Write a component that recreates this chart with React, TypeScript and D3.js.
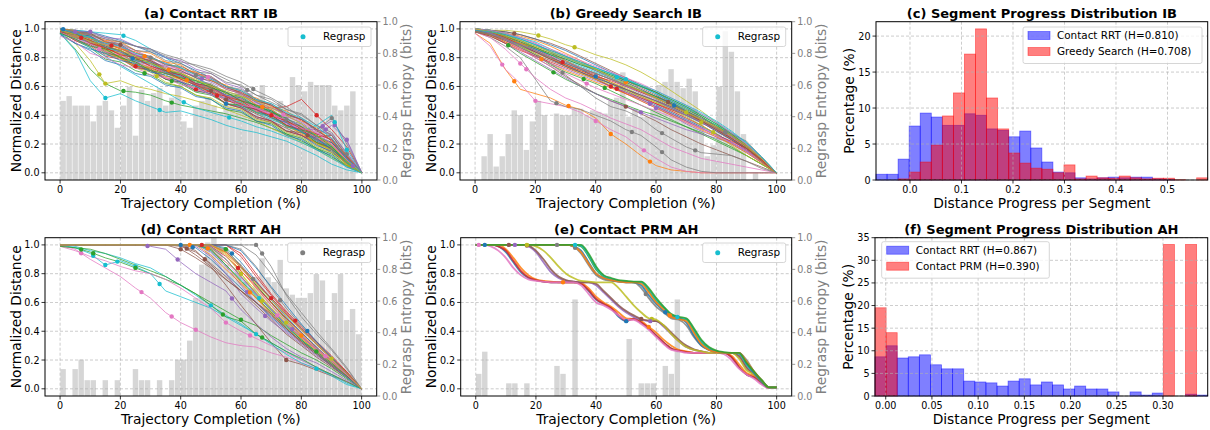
import * as d3 from "d3";
import React from "react";

const tab10 = d3.schemeCategory10;
const FONT = "'DejaVu Sans', sans-serif";

// trajectory completion (%) at which the distance was sampled
const completion = [0, 5, 10, 15, 20, 25, 30, 35, 40, 45, 50, 55, 60, 65, 70, 75, 80, 85, 90, 95, 100];
const completionFine = [
  0, 2.5, 5, 7.5, 10, 12.5, 15, 17.5, 20, 22.5, 25, 27.5, 30, 32.5, 35, 37.5, 40, 42.5, 45, 47.5, 50,
  52.5, 55, 57.5, 60, 62.5, 65, 67.5, 70, 72.5, 75, 77.5, 80, 82.5, 85, 87.5, 90, 92.5, 95, 97.5, 100,
];
const entropyCentres = [
  1, 3, 5, 7, 9, 11, 13, 15, 17, 19, 21, 23, 25, 27, 29, 31, 33, 35, 37, 39, 41, 43, 45, 47, 49,
  51, 53, 55, 57, 59, 61, 63, 65, 67, 69, 71, 73, 75, 77, 79, 81, 83, 85, 87, 89, 91, 93, 95, 97, 99,
];

// (a) Contact RRT IB
const rrtIbLines = [
  [1, .99, .98, .95, .92, .88, .84, .80, .76, .71, .66, .60, .55, .49, .43, .38, .32, .26, .19, .1, 0],
  [.98, .95, .90, .86, .83, .79, .74, .70, .66, .62, .57, .53, .48, .44, .38, .33, .27, .21, .15, .08, 0],
  [.97, .86, .72, .62, .57, .56, .54, .50, .47, .45, .43, .41, .38, .35, .31, .27, .22, .17, .11, .05, 0],
  [1, .97, .93, .90, .86, .82, .77, .72, .67, .62, .58, .54, .50, .47, .45, .46, .51, .40, .30, .18, 0],
  [1, .98, .96, .93, .89, .85, .80, .76, .71, .66, .61, .56, .50, .45, .40, .34, .30, .30, .36, .22, 0],
  [.99, .96, .92, .87, .82, .77, .73, .69, .65, .61, .57, .51, .46, .41, .36, .31, .26, .20, .14, .07, 0],
  [1, .98, .95, .92, .88, .84, .80, .76, .72, .69, .66, .60, .54, .48, .41, .35, .29, .23, .16, .08, 0],
  [1, .99, .97, .94, .91, .88, .85, .81, .77, .75, .72, .67, .63, .57, .52, .46, .38, .30, .38, .20, 0],
  [.98, .90, .78, .62, .64, .60, .58, .55, .53, .50, .47, .44, .40, .36, .31, .26, .21, .16, .10, .05, 0],
  [.97, .85, .64, .52, .55, .50, .46, .42, .43, .40, .37, .33, .30, .28, .25, .22, .17, .12, .06, .02, 0],
  [.99, .94, .90, .83, .81, .74, .71, .65, .63, .57, .55, .48, .46, .39, .36, .29, .26, .19, .15, .06, 0],
  [1, .96, .95, .89, .87, .80, .78, .72, .70, .64, .61, .55, .52, .45, .42, .35, .31, .24, .21, .11, 0],
  [.98, .92, .87, .79, .77, .71, .68, .62, .60, .54, .51, .44, .42, .36, .34, .27, .24, .17, .13, .05, 0],
  [1, .95, .92, .84, .80, .74, .73, .69, .67, .60, .56, .48, .45, .39, .36, .29, .26, .21, .18, .08, 0],
  [.99, .96, .95, .90, .88, .82, .79, .72, .69, .62, .59, .52, .50, .44, .42, .36, .33, .26, .33, .23, 0],
  [1, .97, .97, .91, .88, .81, .78, .71, .68, .61, .58, .51, .49, .42, .39, .32, .29, .21, .16, .07, 0],
  [.98, .92, .89, .84, .82, .76, .74, .69, .68, .62, .60, .54, .51, .44, .41, .33, .30, .22, .18, .08, 0],
  [1, .96, .93, .87, .85, .79, .77, .71, .69, .64, .62, .56, .54, .47, .44, .37, .34, .26, .21, .09, 0],
  [.99, .95, .92, .86, .84, .78, .75, .69, .67, .61, .59, .53, .50, .43, .40, .33, .29, .21, .16, .06, 0],
  [1, .99, .98, .97, .96, .92, .86, .80, .73, .66, .60, .53, .47, .42, .37, .33, .29, .33, .40, .16, 0],
  [.97, .90, .85, .78, .75, .69, .67, .61, .59, .53, .51, .45, .43, .36, .33, .26, .23, .16, .12, .04, 0],
  [1, .97, .96, .92, .91, .85, .83, .77, .75, .68, .65, .58, .55, .47, .44, .36, .32, .24, .18, .07, 0],
  [.99, .94, .91, .84, .81, .75, .72, .65, .62, .56, .54, .48, .47, .42, .40, .33, .29, .21, .17, .07, 0],
  [.98, .92, .88, .81, .79, .73, .72, .66, .64, .58, .56, .50, .48, .42, .39, .32, .29, .25, .26, .11, 0],
  [1, .98, .98, .94, .93, .88, .86, .80, .78, .72, .69, .62, .59, .51, .47, .39, .35, .27, .23, .11, 0],
  [.99, .93, .89, .82, .80, .73, .71, .65, .63, .57, .55, .48, .45, .38, .35, .29, .28, .23, .21, .09, 0],
  [1, .96, .94, .89, .88, .82, .80, .74, .72, .67, .65, .59, .56, .49, .46, .39, .36, .28, .23, .10, 0],
  [.99, .96, .95, .89, .87, .81, .80, .75, .73, .68, .66, .60, .58, .51, .48, .41, .37, .30, .26, .12, 0],
  [1, .95, .91, .83, .80, .73, .70, .63, .60, .54, .52, .46, .44, .37, .35, .28, .25, .18, .14, .05, 0],
  [.97, .93, .87, .81, .74, .68, .62, .56, .50, .45, .42, .39, .36, .32, .29, .25, .21, .16, .10, .04, 0],
  [1, .97, .95, .88, .85, .78, .76, .70, .68, .62, .60, .54, .52, .46, .43, .36, .32, .25, .21, .10, 0],
  [.99, .95, .92, .85, .81, .74, .73, .67, .66, .61, .59, .53, .51, .45, .42, .35, .32, .24, .20, .08, 0],
  [1, .96, .94, .87, .85, .79, .77, .71, .69, .63, .61, .55, .53, .46, .43, .36, .32, .23, .18, .07, 0],
  [.98, .94, .92, .86, .84, .78, .76, .70, .68, .62, .60, .53, .50, .43, .40, .33, .30, .22, .17, .06, 0],
  [.99, .94, .91, .85, .83, .77, .75, .69, .67, .61, .59, .53, .51, .45, .42, .35, .31, .23, .19, .08, 0],
  [1, .98, .97, .91, .89, .83, .81, .75, .74, .69, .67, .60, .57, .50, .47, .40, .37, .29, .24, .10, 0],
  [.98, .93, .90, .84, .82, .76, .73, .66, .64, .58, .57, .51, .49, .43, .41, .34, .31, .24, .20, .09, 0],
  [1, .97, .96, .91, .90, .85, .84, .78, .76, .70, .69, .63, .61, .54, .51, .44, .41, .33, .28, .13, 0],
  [.99, .94, .92, .85, .83, .76, .73, .67, .65, .59, .57, .51, .49, .42, .39, .32, .28, .20, .16, .06, 0],
  [1, .96, .94, .87, .84, .78, .76, .70, .67, .60, .57, .51, .49, .42, .39, .32, .29, .22, .18, .07, 0],
  [.96, .90, .86, .83, .78, .76, .70, .68, .63, .60, .54, .52, .47, .44, .38, .35, .28, .24, .16, .09, 0],
  [1, .99, .93, .91, .86, .84, .79, .77, .72, .70, .64, .61, .55, .52, .46, .43, .36, .31, .22, .12, 0],
  [.97, .93, .88, .86, .80, .77, .71, .69, .66, .64, .59, .56, .50, .47, .42, .38, .30, .26, .18, .08, 0],
  [.99, .97, .90, .87, .82, .80, .74, .71, .65, .61, .56, .53, .47, .44, .40, .36, .31, .27, .23, .11, 0],
  [1, .95, .91, .89, .84, .82, .77, .74, .70, .67, .63, .58, .55, .49, .45, .41, .37, .30, .27, .14, 0],
  [.98, .96, .92, .88, .85, .80, .78, .73, .71, .66, .64, .59, .56, .50, .47, .41, .37, .30, .22, .10, 0],
  [.95, .91, .83, .80, .75, .73, .68, .66, .61, .59, .54, .52, .47, .45, .40, .37, .31, .28, .20, .09, 0],
  [1, .98, .96, .93, .91, .88, .86, .82, .79, .74, .70, .65, .60, .54, .49, .44, .40, .33, .26, .12, 0],
  [.99, .96, .91, .89, .85, .81, .76, .72, .69, .65, .60, .57, .53, .50, .45, .40, .34, .26, .19, .08, 0],
  [1, .97, .94, .90, .88, .83, .80, .76, .73, .68, .65, .60, .57, .51, .48, .42, .38, .32, .24, .10, 0],
];
// [trajectory index, completion %] of every regrasp
const rrtIbRegrasps = [
  [9, 15], [9, 33], [29, 41], [29, 56], [2, 21], [2, 37], [8, 13], [8, 15], [3, 17], [3, 85], [13, 7],
  [13, 25], [4, 91], [4, 87], [7, 90], [7, 64], [14, 95], [14, 88], [19, 21], [19, 91], [19, 95], [27, 45],
  [27, 30], [23, 45], [23, 52], [5, 50], [5, 55], [6, 49], [1, 42], [10, 55], [11, 36], [12, 28], [25, 82],
  [17, 75], [21, 67], [26, 74], [37, 95], [34, 97], [22, 37], [28, 32], [35, 20], [24, 10], [16, 13], [30, 24],
  [4, 5], [0, 1], [44, 47], [47, 62], [41, 28], [43, 70],
];
const rrtIbEntropy = [
  .50, .53, .47, .47, .47, .37, .47, .50, .44, .33, .47, .59, .28, .57, .50, .55, .58, .47, .52, .60,
  .37, .33, .47, .50, .52, .47, .43, .52, .49, .57, .53, .55, .52, .60, .43, .45, .50, .47, .65, .60,
  .56, .62, .60, .60, .60, .47, .44, .47, .56, 0,
];

// (b) Greedy Search IB
const greedyIbLines = [
  [1, .99, .98, .96, .93, .89, .85, .80, .75, .70, .65, .60, .55, .49, .43, .37, .31, .24, .17, .09, 0],
  [.97, .90, .72, .58, .55, .52, .47, .44, .38, .27, .20, .12, .05, .02, .01, 0, 0, 0, 0, 0, 0],
  [.98, .97, .93, .88, .82, .75, .70, .66, .62, .57, .52, .47, .42, .37, .32, .27, .22, .17, .12, .06, 0],
  [.99, .98, .95, .90, .85, .80, .76, .72, .68, .63, .58, .53, .48, .43, .38, .33, .27, .21, .15, .08, 0],
  [1, .99, .97, .94, .90, .84, .78, .72, .66, .60, .55, .50, .45, .40, .34, .29, .25, .20, .14, .07, 0],
  [.98, .96, .91, .86, .80, .74, .67, .61, .55, .50, .46, .41, .36, .30, .25, .20, .16, .12, .08, .04, 0],
  [.97, .88, .72, .62, .50, .48, .46, .42, .36, .30, .25, .17, .10, .04, .01, 0, 0, 0, 0, 0, 0],
  [.98, .94, .88, .80, .65, .50, .46, .44, .40, .36, .30, .26, .18, .09, .04, .01, 0, 0, 0, 0, 0],
  [1, .99, .99, .98, .96, .93, .89, .86, .82, .79, .75, .70, .64, .57, .50, .43, .35, .27, .18, .09, 0],
  [1, .99, .97, .94, .91, .86, .81, .76, .72, .68, .64, .60, .56, .51, .46, .41, .35, .28, .20, .10, 0],
  [.99, .96, .92, .88, .84, .80, .76, .72, .67, .62, .57, .52, .47, .42, .37, .32, .27, .21, .15, .08, 0],
  [1, .99, .97, .95, .92, .88, .83, .78, .72, .67, .63, .58, .53, .48, .42, .36, .30, .23, .16, .08, 0],
  [.98, .95, .90, .83, .77, .71, .65, .60, .55, .51, .47, .43, .40, .36, .32, .28, .23, .18, .12, .06, 0],
  [1, .98, .95, .91, .86, .81, .75, .70, .65, .60, .55, .51, .46, .41, .36, .31, .26, .22, .17, .09, 0],
  [.99, .96, .90, .84, .78, .72, .66, .60, .55, .50, .46, .42, .38, .34, .30, .27, .24, .21, .15, .07, 0],
  [1, .99, .98, .96, .93, .90, .86, .81, .76, .71, .66, .61, .56, .50, .45, .39, .32, .26, .19, .10, 0],
  [.98, .94, .86, .76, .66, .58, .52, .48, .43, .38, .34, .30, .24, .18, .14, .10, .08, .06, .04, .02, 0],
  [.99, .97, .94, .89, .83, .76, .68, .60, .52, .46, .43, .38, .30, .24, .18, .14, .13, .12, .08, .03, 0],
  [.99, .97, .93, .88, .83, .79, .75, .71, .67, .63, .59, .54, .49, .44, .39, .33, .27, .19, .12, .06, 0],
  [1, .98, .94, .90, .86, .82, .78, .74, .70, .66, .62, .57, .53, .48, .43, .38, .33, .27, .20, .10, 0],
  [.98, .97, .94, .90, .86, .82, .79, .75, .71, .67, .63, .58, .53, .48, .42, .37, .31, .25, .18, .09, 0],
  [.99, .96, .91, .86, .81, .76, .71, .67, .63, .59, .55, .50, .45, .40, .35, .30, .25, .20, .14, .07, 0],
  [1, .99, .96, .92, .87, .82, .77, .73, .69, .65, .61, .57, .53, .49, .44, .39, .33, .26, .18, .09, 0],
  [.98, .95, .90, .85, .81, .77, .73, .69, .65, .60, .56, .52, .48, .44, .40, .35, .29, .23, .16, .08, 0],
  [1, .98, .93, .87, .81, .76, .72, .68, .64, .60, .56, .51, .46, .41, .36, .31, .26, .21, .16, .08, 0],
  [.99, .98, .96, .93, .89, .85, .81, .77, .73, .69, .64, .59, .54, .48, .43, .38, .32, .26, .19, .10, 0],
  [1, .97, .92, .86, .80, .74, .69, .64, .59, .55, .51, .47, .43, .39, .35, .31, .26, .21, .15, .08, 0],
  [.98, .97, .95, .92, .88, .84, .80, .76, .71, .66, .61, .56, .51, .46, .41, .36, .31, .26, .20, .11, 0],
  [.99, .97, .94, .90, .85, .80, .74, .69, .65, .61, .57, .53, .49, .45, .40, .35, .30, .24, .17, .08, 0],
  [1, .99, .97, .93, .89, .84, .80, .76, .73, .69, .65, .60, .55, .50, .45, .40, .34, .28, .21, .11, 0],
  [.99, .97, .93, .89, .84, .79, .74, .70, .66, .62, .58, .54, .50, .45, .40, .35, .29, .23, .17, .09, 0],
  [.98, .96, .93, .90, .87, .83, .78, .73, .69, .65, .61, .57, .52, .47, .42, .37, .31, .25, .18, .09, 0],
  [1, .98, .95, .91, .87, .83, .79, .75, .72, .68, .64, .60, .56, .51, .46, .40, .34, .27, .19, .10, 0],
  [.99, .98, .94, .89, .84, .79, .75, .71, .67, .64, .60, .56, .52, .47, .42, .36, .30, .24, .17, .09, 0],
  [1, .97, .93, .89, .85, .81, .77, .73, .69, .65, .60, .55, .50, .45, .40, .35, .30, .25, .19, .10, 0],
  [.98, .96, .92, .87, .82, .78, .74, .70, .66, .62, .58, .54, .50, .46, .41, .36, .30, .24, .17, .08, 0],
  [1, .99, .97, .94, .90, .86, .82, .78, .74, .70, .66, .62, .57, .52, .47, .41, .35, .28, .20, .10, 0],
  [.98, .96, .93, .89, .85, .80, .76, .72, .69, .65, .61, .57, .52, .47, .42, .37, .31, .27, .22, .11, 0],
  [1, .98, .95, .92, .88, .84, .80, .76, .72, .67, .62, .57, .52, .47, .42, .37, .32, .26, .19, .10, 0],
  [.99, .98, .96, .93, .89, .85, .81, .77, .73, .69, .65, .61, .57, .52, .47, .42, .36, .29, .21, .11, 0],
];
const greedyIbRegrasps = [
  [1, 13], [1, 31], [1, 45], [1, 58], [6, 9], [6, 20], [6, 40], [6, 56], [7, 27], [7, 52], [7, 62], [17, 29],
  [17, 62], [17, 73], [8, 21], [8, 33], [16, 15], [16, 17], [12, 11], [12, 26], [2, 36], [2, 43], [3, 29],
  [14, 55], [5, 50], [13, 45], [25, 64], [27, 83], [28, 75], [37, 83], [38, 70], [9, 47], [10, 40], [11, 50],
  [4, 60], [20, 66], [23, 47], [26, 37], [21, 22], [24, 58], [15, 13], [18, 79], [39, 50],
];
const greedyIbEntropy = [
  0, .15, .29, .085, .15, .29, .44, .41, .19, .37, .50, .41, .19, .42, .41, .41, .45, .45, .41, .44,
  .43, .42, .50, .52, .68, .40, .45, .40, .40, .45, .60, .62, .70, .62, .58, .64, .56, .37, .15, .22,
  .59, .94, .81, .56, .29, 0, .05, 0, 0, 0,
];

// (d) Contact RRT AH
const rrtAhLines = [
  [1, 1, 1, 1, 1, 1, 1, 1, 1, 1, .98, .90, .78, .66, .55, .44, .34, .25, .16, .08, 0],
  [1, 1, 1, 1, 1, 1, 1, 1, 1, 1, 1, .95, .84, .72, .60, .49, .38, .28, .19, .1, 0],
  [.99, .98, .95, .91, .88, .84, .80, .76, .72, .66, .60, .54, .48, .44, .37, .31, .25, .2, .14, .07, 0],
  [1, 1, 1, 1, 1, 1, 1, 1, 1, 1, 1, 1, .92, .78, .65, .53, .42, .32, .22, .12, 0],
  [1, 1, 1, 1, 1, 1, .99, .97, .88, .80, .74, .68, .55, .45, .36, .28, .22, .18, .12, .06, 0],
  [1, 1, 1, 1, 1, 1, 1, 1, 1, .93, .85, .72, .58, .45, .32, .20, .17, .13, .09, .05, 0],
  [1, .97, .90, .84, .78, .70, .63, .53, .46, .41, .36, .32, .30, .29, .25, .22, .18, .14, .10, .05, 0],
  [1, 1, 1, 1, 1, 1, 1, 1, 1, 1, 1, 1, 1, .93, .80, .66, .53, .40, .28, .15, 0],
  [1, 1, 1, 1, 1, 1, 1, 1, 1, 1, .96, .88, .80, .68, .56, .45, .35, .26, .17, .09, 0],
  [1, .98, .94, .86, .89, .85, .80, .68, .64, .60, .56, .50, .44, .38, .32, .26, .20, .15, .09, .03, 0],
  [1, 1, 1, 1, 1, 1, 1, 1, 1, .98, .90, .80, .70, .60, .50, .41, .33, .25, .17, .09, 0],
  [1, 1, 1, 1, 1, 1, 1, 1, 1, 1, .97, .86, .74, .63, .52, .42, .33, .25, .17, .09, 0],
  [1, 1, 1, 1, 1, 1, 1, 1, 1, 1, 1, .97, .85, .72, .60, .48, .37, .27, .18, .09, 0],
  [1, 1, 1, 1, 1, 1, 1, 1, 1, 1, .99, .92, .82, .71, .60, .49, .39, .29, .19, .1, 0],
  [1, 1, 1, 1, 1, 1, 1, 1, 1, 1, .95, .85, .72, .60, .49, .40, .32, .24, .16, .08, 0],
  [1, 1, 1, 1, 1, 1, 1, 1, .99, .95, .87, .78, .68, .58, .48, .38, .30, .22, .15, .08, 0],
  [.99, .96, .92, .89, .85, .82, .80, .76, .70, .63, .56, .46, .40, .35, .30, .25, .20, .15, .1, .05, 0],
  [1, 1, 1, 1, 1, 1, 1, 1, 1, 1, 1, 1, .97, .85, .70, .56, .44, .32, .22, .11, 0],
  [1, 1, 1, 1, 1, 1, 1, 1, 1, 1, 1, .93, .80, .66, .54, .44, .36, .27, .18, .09, 0],
  [1, .99, .96, .94, .91, .87, .84, .78, .72, .65, .58, .51, .45, .38, .31, .24, .18, .14, .1, .04, 0],
  [1, 1, 1, 1, 1, 1, 1, 1, 1, 1, 1, .98, .88, .75, .62, .50, .39, .29, .19, .1, 0],
  [1, 1, 1, 1, 1, 1, 1, 1, 1, 1, .93, .83, .73, .63, .53, .44, .35, .27, .19, .1, 0],
  [.99, .98, .97, .94, .90, .86, .82, .78, .72, .66, .58, .50, .47, .38, .32, .26, .21, .15, .1, .05, 0],
  [1, 1, 1, 1, 1, 1, 1, 1, 1, 1, 1, 1, .94, .80, .66, .54, .43, .33, .23, .12, 0],
  [1, 1, 1, 1, 1, 1, 1, 1, 1, .99, .92, .80, .66, .56, .47, .39, .31, .23, .16, .08, 0],
  [1, 1, 1, 1, 1, 1, 1, 1, 1, .96, .86, .76, .68, .60, .52, .42, .32, .24, .16, .08, 0],
  [1, 1, 1, 1, 1, 1, 1, 1, 1, 1, .97, .88, .77, .66, .55, .45, .36, .27, .18, .09, 0],
  [1, 1, 1, 1, 1, 1, 1, 1, 1, 1, 1, .96, .86, .74, .63, .52, .42, .31, .21, .11, 0],
  [1, 1, 1, 1, 1, 1, 1, 1, 1, 1, .98, .90, .78, .67, .56, .46, .37, .28, .19, .1, 0],
  [1, 1, 1, 1, 1, 1, 1, 1, 1, 1, .96, .86, .76, .65, .55, .44, .34, .25, .17, .08, 0],
  [1, 1, 1, 1, 1, 1, 1, 1, 1, 1, 1, 1, .96, .84, .71, .58, .45, .33, .22, .11, 0],
  [1, 1, 1, 1, 1, 1, 1, 1, 1, 1, 1, .94, .82, .70, .58, .47, .37, .28, .2, .1, 0],
  [1, 1, 1, 1, 1, 1, 1, 1, 1, 1, .97, .86, .75, .64, .53, .43, .34, .26, .18, .09, 0],
  [1, 1, 1, 1, 1, 1, 1, 1, 1, 1, 1, .95, .85, .74, .63, .52, .41, .31, .21, .11, 0],
  [1, 1, 1, 1, 1, 1, 1, 1, 1, 1, .99, .90, .78, .66, .55, .45, .36, .28, .2, .1, 0],
  [1, 1, 1, 1, 1, 1, 1, 1, .97, .91, .84, .76, .68, .60, .51, .42, .33, .25, .17, .09, 0],
  [1, 1, 1, 1, 1, 1, 1, 1, 1, 1, 1, .96, .84, .71, .58, .47, .37, .28, .19, .1, 0],
  [1, 1, 1, 1, 1, 1, 1, 1, 1, 1, 1, 1, 1, 1, .85, .65, .50, .38, .27, .14, 0],
  [1, 1, 1, 1, 1, 1, 1, 1, 1, 1, 1, .95, .84, .73, .62, .51, .41, .31, .21, .11, 0],
];
const rrtAhRegrasps = [
  [6, 7], [6, 27], [6, 37], [6, 45], [16, 55], [16, 63], [9, 11], [9, 15], [9, 19], [9, 25], [9, 33], [19, 50],
  [19, 65], [19, 85], [2, 7], [2, 11], [2, 25], [2, 60], [22, 54], [22, 67], [4, 29], [4, 39], [4, 57], [37, 65],
  [37, 67], [5, 75], [0, 40], [1, 43], [3, 47], [10, 44], [11, 49], [12, 55], [13, 59], [20, 57], [15, 42],
  [25, 48], [35, 40], [14, 62], [21, 63], [24, 68], [26, 72], [28, 75], [29, 66], [31, 80], [32, 85], [33, 70],
  [34, 77], [36, 88], [38, 90], [18, 67], [17, 73], [27, 64], [23, 78], [30, 82], [8, 60],
];
const rrtAhEntropy = [
  .17, 0, .17, .23, .10, .10, 0, .10, 0, .10, 0, 0, .17, .10, .10, 0, .10, 0, .10, .23,
  .23, .35, .62, .83, .97, 1.0, .93, .83, .78, .80, .72, .68, .75, .87, .75, .72, .86, .68, .64, .62,
  .62, .65, .77, .73, .48, .65, .77, .48, .55, .39,
];

// (e) Contact PRM AH
const prmAhLines = [
  [1, 1, 1, .99, .95, .88, .81, .77, .755, .745, .74, .74, .74, .74, .73, .68, .62, .59, .56, .50,
    .47, .49, .46, .42, .37, .32, .28, .265, .255, .25, .25, .25, .25, .25, .22, .15, .10, .08, .04, .005, .01],
  [1, 1, 1, 1, .97, .91, .84, .79, .76, .75, .745, .74, .74, .74, .735, .70, .64, .60, .57, .53,
    .49, .485, .47, .43, .39, .34, .30, .27, .26, .25, .25, .25, .25, .25, .23, .17, .11, .09, .05, .01, .01],
  [1, 1, 1, 1, 1, 1, 1, 1, 1, 1, 1, 1, 1, 1, .99, .92, .83, .78, .76, .75,
    .745, .74, .74, .68, .61, .56, .51, .49, .48, .40, .32, .28, .26, .25, .25, .245, .17, .11, .06, .01, .01],
  [1, 1, 1, .99, .96, .89, .82, .775, .755, .745, .74, .74, .74, .74, .73, .685, .625, .59, .56, .51,
    .475, .485, .46, .42, .37, .32, .28, .265, .255, .25, .25, .25, .25, .25, .22, .15, .10, .08, .04, .005, .01],
  [1, 1, 1, 1, 1, 1, 1, .99, .95, .88, .81, .77, .75, .745, .74, .74, .72, .67, .62, .57,
    .53, .50, .48, .47, .47, .43, .38, .33, .29, .27, .26, .25, .25, .25, .25, .22, .14, .10, .05, .01, .01],
  [1, 1, 1, 1, 1, 1, 1, .995, .96, .90, .83, .78, .755, .745, .74, .74, .73, .68, .63, .58,
    .54, .51, .485, .475, .47, .44, .39, .34, .30, .275, .26, .25, .25, .25, .25, .23, .15, .10, .05, .01, .01],
  [1, 1, .99, .96, .91, .84, .79, .76, .75, .745, .74, .74, .74, .74, .72, .66, .60, .58, .55, .51,
    .48, .48, .45, .41, .36, .31, .27, .26, .25, .25, .25, .25, .25, .24, .20, .14, .10, .07, .03, .005, .01],
  [1, 1, 1, 1, 1, 1, 1, 1, 1, 1, 1, 1, 1, .99, .94, .86, .79, .76, .75, .745,
    .74, .74, .70, .63, .57, .53, .49, .48, .44, .36, .30, .27, .255, .25, .25, .25, .20, .12, .06, .01, .01],
  [1, 1, 1, 1, 1, 1, 1, 1, .99, .96, .91, .85, .80, .77, .75, .745, .74, .74, .74, .70,
    .64, .58, .53, .49, .48, .44, .38, .33, .29, .27, .26, .25, .25, .25, .25, .21, .13, .10, .05, .01, .01],
  [1, 1, 1, 1, 1, 1, 1, 1, 1, 1, 1, 1, 1, 1, .995, .93, .84, .785, .765, .75,
    .745, .74, .74, .69, .62, .565, .515, .495, .485, .41, .33, .285, .26, .25, .25, .245, .17, .11, .06, .01, .01],
  [1, 1, 1, 1, 1, 1, 1, 1, 1, 1, 1, 1, 1, .99, .96, .88, .80, .77, .755, .745,
    .74, .74, .72, .65, .59, .54, .50, .49, .46, .37, .30, .27, .255, .25, .25, .25, .18, .11, .05, .01, .01],
  [1, 1, 1, 1, 1, 1, 1, 1, 1, 1, 1, 1, 1, .99, .95, .87, .80, .77, .755, .745,
    .74, .74, .73, .67, .60, .55, .50, .485, .47, .39, .31, .27, .255, .25, .25, .25, .19, .12, .06, .01, .01],
  [1, 1, 1, 1, 1, 1, 1, 1, 1, 1, 1, 1, 1, 1, 1, .94, .85, .79, .77, .755,
    .75, .745, .745, .70, .63, .57, .52, .50, .49, .42, .34, .29, .265, .255, .25, .25, .18, .12, .06, .01, .01],
];
const prmAhRegrasps = [
  [6, 1], [0, 3], [5, 11], [4, 13], [5, 17], [8, 17], [7, 27], [1, 29], [7, 33], [9, 33], [0, 50], [5, 55],
  [7, 56.5], [1, 57.5], [8, 58.5], [10, 63], [11, 64.5], [9, 67], [4, 58],
];
const prmAhEntropy = [
  .14, .28, 0, 0, 0, .08, .08, 0, .08, 0, 0, 0, 0, .19, .14, 0, .61, 0, 0, 0,
  0, 0, 0, 0, 0, .36, 0, .08, .08, .08, 0, .19, .14, .61, 0, 0, 0, 0, 0, 0,
  0, 0, 0, 0, 0, 0, 0, 0, 0, 0,
];

// (c), (f) histograms of distance progress per segment (percentage of segments per bin)
const ibBinStart = -0.066;
const ibBinWidth = 0.02147;
const rrtIbHist = [
  .8, .8, 2.9, 7.5, 9.3, 8.75, 7.6, 7.6, 9.2, 9.0, 7.1, 6.9, 6.0, 6.8, 4.45, 2.5, 1.1, 1.0, .3, .15,
  .3, .4, .3, .4, .4, .15, .1, 0, 0, 0,
];
const greedyIbHist = [
  0, 0, .15, 1.1, 2.5, 4.85, 8.9, 12.1, 17.5, 21.0, 11.4, 7.1, 3.75, 2.35, 1.65, 1.5, 1.0, 2.1, .15, .55,
  .3, .25, .55, .3, .15, .25, .25, .05, 0, .3,
];
const ahBinStart = -0.0116;
const ahBinWidth = 0.012;
const rrtAhHist = [
  8.66, 11.1, 8.4, 8.66, 9.1, 6.9, 6.0, 6.0, 3.3, 3.1, 2.9, 2.2, 3.3, 3.8, 2.45, 3.1, 2.45, 1.55, 2.2, 1.55,
  1.55, .9, 0, .9, .2, .65, 0, 0, .4, .2,
];
const prmAhHist = [
  19.5, 14.0, 0, 0, 0, 0, 0, 0, 0, 0, 0, 0, 0, 0, 0, 0, 0, 0, 0, 0,
  0, 0, 0, 0, 0, 0, 33.5, 0, 33.5, 0,
];

const GRID = { stroke: "#b0b0b0", strokeWidth: 0.8, strokeDasharray: "3,2", opacity: 0.8 };

function Legend({ x, y, w, h }) {
  return <rect x={x} y={y} width={w} height={h} rx={2} fill="white" fillOpacity={0.8} stroke="#cccccc" strokeWidth={0.8} />;
}

function TrajectoryPanel({ box, title, xs, lines, regrasps, entropy, legendColor, lineWidth = 1, lineOpacity = 0.75, curve = d3.curveLinear }) {
  const { left, top, right, bottom } = box;
  const x = d3.scaleLinear().domain([-5, 105]).range([left, right]);
  const y = d3.scaleLinear().domain([-0.05, 1.05]).range([bottom, top]);
  const yEnt = d3.scaleLinear().domain([0, 1]).range([bottom, top]);
  const xTicks = [0, 20, 40, 60, 80, 100];
  const yTicks = [0, 0.2, 0.4, 0.6, 0.8, 1.0];
  const line = d3.line<number>().x((_, i) => x(xs[i])).y((d) => y(d)).curve(curve);
  const barW = x(1.8) - x(0);
  const midY = (top + bottom) / 2;
  const midX = (left + right) / 2;
  return (
    <g>
      {entropy.map((v, i) =>
        v > 0 ? (
          <rect key={i} x={x(entropyCentres[i]) - barW / 2} y={yEnt(v)} width={barW} height={yEnt(0) - yEnt(v)} fill="#d6d6d6" />
        ) : null
      )}
      {xTicks.map((t) => <line key={"gx" + t} x1={x(t)} x2={x(t)} y1={top} y2={bottom} {...GRID} />)}
      {yTicks.map((t) => <line key={"gy" + t} x1={left} x2={right} y1={y(t)} y2={y(t)} {...GRID} />)}
      {lines.map((l, i) => (
        <path key={i} d={line(l)} fill="none" stroke={tab10[i % 10]} strokeWidth={lineWidth} strokeOpacity={lineOpacity} />
      ))}
      {regrasps.map(([li, px], i) => {
        const along = d3.scaleLinear().domain(xs).range(lines[li]);
        return <circle key={i} cx={x(px)} cy={y(along(px))} r={2.2} fill={tab10[li % 10]} />;
      })}
      <rect x={left} y={top} width={right - left} height={bottom - top} fill="none" stroke="black" strokeWidth={1} />
      {xTicks.map((t) => (
        <g key={"tx" + t}>
          <line x1={x(t)} x2={x(t)} y1={bottom} y2={bottom + 3.5} stroke="black" strokeWidth={0.8} />
          <text x={x(t)} y={bottom + 12.5} textAnchor="middle" fontSize={9.6}>{t}</text>
        </g>
      ))}
      {yTicks.map((t) => (
        <g key={"ty" + t}>
          <line x1={left - 3.5} x2={left} y1={y(t)} y2={y(t)} stroke="black" strokeWidth={0.8} />
          <text x={left - 5.5} y={y(t) + 3.5} textAnchor="end" fontSize={9.6}>{t.toFixed(1)}</text>
        </g>
      ))}
      {yTicks.map((t) => (
        <g key={"tr" + t}>
          <line x1={right} x2={right + 3.5} y1={yEnt(t)} y2={yEnt(t)} stroke="gray" strokeWidth={0.8} />
          <text x={right + 5.5} y={yEnt(t) + 3.5} textAnchor="start" fontSize={9.6} fill="gray">{t.toFixed(1)}</text>
        </g>
      ))}
      <Legend x={right - 89} y={top + 5.3} w={83} h={19.5} />
      <circle cx={right - 74} cy={top + 15} r={2.5} fill={legendColor} />
      <text x={right - 54} y={top + 18.7} fontSize={10.4}>Regrasp</text>
      <text x={midX} y={top - 3.4} textAnchor="middle" fontSize={13} fontWeight="bold">{title}</text>
      <text x={midX} y={bottom + 28.3} textAnchor="middle" fontSize={13.8}>Trajectory Completion (%)</text>
      <text transform={`translate(${left - 24.3},${midY}) rotate(-90)`} textAnchor="middle" fontSize={13.8}>Normalized Distance</text>
      <text transform={`translate(${right + 34},${midY}) rotate(-90)`} textAnchor="middle" fontSize={13.8} fill="gray">Regrasp Entropy (bits)</text>
    </g>
  );
}

function HistPanel({ box, title, binStart, binWidth, series, xTicks, xDigits, yTicks, yMax, legend }) {
  const { left, top, right, bottom } = box;
  const nBins = series[0].values.length;
  const x = d3.scaleLinear().domain([binStart, binStart + nBins * binWidth]).range([left, right]);
  const y = d3.scaleLinear().domain([0, yMax]).range([bottom, top]);
  const midY = (top + bottom) / 2;
  const midX = (left + right) / 2;
  return (
    <g>
      {series.map((s) =>
        s.values.map((v, i) =>
          v > 0 ? (
            <rect key={s.label + i} x={x(binStart + i * binWidth)} y={y(v)} width={x(binStart + (i + 1) * binWidth) - x(binStart + i * binWidth)}
              height={y(0) - y(v)} fill={s.color} fillOpacity={0.5} stroke={s.color} strokeOpacity={0.5} strokeWidth={0.8} />
          ) : null
        )
      )}
      {xTicks.map((t) => <line key={"gx" + t} x1={x(t)} x2={x(t)} y1={top} y2={bottom} {...GRID} />)}
      {yTicks.map((t) => <line key={"gy" + t} x1={left} x2={right} y1={y(t)} y2={y(t)} {...GRID} />)}
      <rect x={left} y={top} width={right - left} height={bottom - top} fill="none" stroke="black" strokeWidth={1} />
      {xTicks.map((t) => (
        <g key={"tx" + t}>
          <line x1={x(t)} x2={x(t)} y1={bottom} y2={bottom + 3.5} stroke="black" strokeWidth={0.8} />
          <text x={x(t)} y={bottom + 12.5} textAnchor="middle" fontSize={9.6}>{t.toFixed(xDigits)}</text>
        </g>
      ))}
      {yTicks.map((t) => (
        <g key={"ty" + t}>
          <line x1={left - 3.5} x2={left} y1={y(t)} y2={y(t)} stroke="black" strokeWidth={0.8} />
          <text x={left - 5.5} y={y(t) + 3.5} textAnchor="end" fontSize={9.6}>{t}</text>
        </g>
      ))}
      <Legend x={legend.x} y={legend.y} w={legend.w} h={36.5} />
      {series.map((s, i) => (
        <g key={"lg" + s.label}>
          <rect x={legend.x + 5} y={legend.y + 4.5 + i * 16} width={22} height={8} fill={s.color} fillOpacity={0.5} stroke={s.color} strokeOpacity={0.5} strokeWidth={0.8} />
          <text x={legend.x + 34} y={legend.y + 12.3 + i * 16} fontSize={10.4}>{s.label}</text>
        </g>
      ))}
      <text x={midX} y={top - 3.4} textAnchor="middle" fontSize={13} fontWeight="bold">{title}</text>
      <text x={midX} y={bottom + 28.3} textAnchor="middle" fontSize={13.8}>Distance Progress per Segment</text>
      <text transform={`translate(${left - 22.5},${midY}) rotate(-90)`} textAnchor="middle" fontSize={13.8}>Percentage (%)</text>
    </g>
  );
}

export default function App() {
  const row1 = { top: 21.7, bottom: 180 };
  const row2 = { top: 237.7, bottom: 396 };
  return (
    <svg width={1210} height={430} style={{ position: "absolute", left: 0, top: 0, background: "white" }} fontFamily={FONT}>
      <TrajectoryPanel box={{ left: 45, right: 377, ...row1 }} title="(a) Contact RRT IB" xs={completion}
        lines={rrtIbLines} regrasps={rrtIbRegrasps} entropy={rrtIbEntropy} legendColor={tab10[9]} />
      <TrajectoryPanel box={{ left: 460, right: 791.7, ...row1 }} title="(b) Greedy Search IB" xs={completion}
        lines={greedyIbLines} regrasps={greedyIbRegrasps} entropy={greedyIbEntropy} legendColor={tab10[9]} />
      <HistPanel box={{ left: 876, right: 1207.7, ...row1 }} title="(c) Segment Progress Distribution IB"
        binStart={ibBinStart} binWidth={ibBinWidth} xTicks={[0, 0.1, 0.2, 0.3, 0.4, 0.5]} xDigits={1}
        yTicks={[0, 5, 10, 15, 20]} yMax={22} legend={{ x: 1023, y: 27, w: 179 }}
        series={[
          { label: "Contact RRT (H=0.810)", color: "#0000ff", values: rrtIbHist },
          { label: "Greedy Search (H=0.708)", color: "#ff0000", values: greedyIbHist },
        ]} />
      <TrajectoryPanel box={{ left: 45, right: 376.7, ...row2 }} title="(d) Contact RRT AH" xs={completion}
        lines={rrtAhLines} regrasps={rrtAhRegrasps} entropy={rrtAhEntropy} legendColor={tab10[7]} />
      <TrajectoryPanel box={{ left: 460.7, right: 791.7, ...row2 }} title="(e) Contact PRM AH" xs={completionFine}
        lines={prmAhLines} regrasps={prmAhRegrasps} entropy={prmAhEntropy} legendColor={tab10[9]}
        lineWidth={1.8} lineOpacity={0.85} curve={d3.curveMonotoneX} />
      <HistPanel box={{ left: 875, right: 1207.7, ...row2 }} title="(f) Segment Progress Distribution AH"
        binStart={ahBinStart} binWidth={ahBinWidth} xTicks={[0, 0.05, 0.1, 0.15, 0.2, 0.25, 0.3]} xDigits={2}
        yTicks={[0, 5, 10, 15, 20, 25, 30, 35]} yMax={35} legend={{ x: 881.7, y: 241.7, w: 167.6 }}
        series={[
          { label: "Contact RRT (H=0.867)", color: "#0000ff", values: rrtAhHist },
          { label: "Contact PRM (H=0.390)", color: "#ff0000", values: prmAhHist },
        ]} />
    </svg>
  );
}
